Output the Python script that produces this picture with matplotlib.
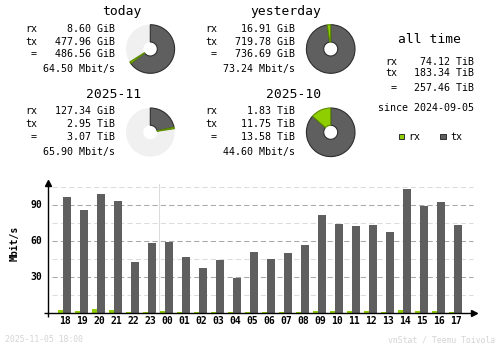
import numpy as np
import matplotlib
matplotlib.use("Agg")
import matplotlib.pyplot as plt
from matplotlib.patches import Wedge, Rectangle

# traffic summary per period (values as printed, units alongside)
periods = ["today", "yesterday", "2025-11", "2025-10"]
rx_val = [8.60, 16.91, 127.34, 1.83]
rx_unit = ["GiB", "GiB", "GiB", "TiB"]
tx_val = [477.96, 719.78, 2.95, 11.75]
tx_unit = ["GiB", "GiB", "TiB", "TiB"]
tot_val = [486.56, 736.69, 3.07, 13.58]
tot_unit = ["GiB", "GiB", "TiB", "TiB"]
rates = [64.50, 73.24, 65.90, 44.60]

alltime_rx = 74.12
alltime_tx = 183.34
alltime_tot = 257.46
since = "2024-09-05"

# hourly averages, Mbit/s
hours = ["18", "19", "20", "21", "22", "23", "00", "01", "02", "03", "04", "05",
         "06", "07", "08", "09", "10", "11", "12", "13", "14", "15", "16", "17"]
hour_tx = [96.9, 86.1, 99.4, 93.6, 42.8, 58.6, 59.7, 46.9, 37.8, 44.4, 29.4, 51.1,
           45.3, 50.3, 56.9, 81.9, 74.4, 72.8, 73.6, 67.8, 103.6, 89.7, 92.8, 73.6]
hour_rx = [2.8, 1.9, 3.6, 2.8, 1.1, 1.1, 1.9, 1.1, 1.1, 1.1, 1.1, 1.1,
           1.1, 1.1, 1.1, 1.9, 1.9, 1.9, 1.9, 1.1, 2.8, 1.9, 1.9, 1.1]

stamp = "2025-11-05 18:00"
credit = "vnStat / Teemu Toivola"

C_TX = "#5f5f5f"
C_TX_EDGE = "#2e2e2e"
C_RX = "#8fce00"
C_RX_EDGE = "#5c8c00"
C_FREE = "#f0f0f0"
MONO = "DejaVu Sans Mono"

W, H = 500, 348
fig = plt.figure(figsize=(W / 100, H / 100), dpi=100)

# pixel space overlay for the summary part
top = fig.add_axes([0, 0, 1, 1])
top.set_xlim(0, W)
top.set_ylim(H, 0)
top.axis("off")


def to_gib(v, u):
    return v * 1024 if u == "TiB" else v


def pie(cx, cy, rx, tx, fill):
    r, r_in = 24.3, 7.0
    top.add_patch(Wedge((cx, cy), r, 0, 360, width=r - r_in, facecolor=C_FREE, edgecolor="none"))
    total = rx + tx
    a0 = -90
    a1 = a0 + 360 * fill * tx / total
    a2 = a0 + 360 * fill
    top.add_patch(Wedge((cx, cy), r, a0, a1, width=r - r_in, facecolor=C_TX,
                        edgecolor=C_TX_EDGE, lw=0.8))
    top.add_patch(Wedge((cx, cy), r, a1, a2, width=r - r_in, facecolor=C_RX,
                        edgecolor=C_RX_EDGE, lw=0.8))


def block(i, x0, x1, ty, ys, tcx, pcx, pcy, fill):
    top.text(tcx, ty, periods[i], family=MONO, fontsize=9.4, ha="center", va="center")
    rows = [("rx", f"{rx_val[i]:.2f} {rx_unit[i]}"),
            ("tx", f"{tx_val[i]:.2f} {tx_unit[i]}"),
            (" =", f"{tot_val[i]:.2f} {tot_unit[i]}")]
    for (lab, val), y in zip(rows, ys[:3]):
        top.text(x0, y, lab, family=MONO, fontsize=7.2, ha="left", va="center")
        top.text(x1, y, val, family=MONO, fontsize=7.2, ha="right", va="center")
    top.text(x1, ys[3], f"{rates[i]:.2f} Mbit/s", family=MONO, fontsize=7.2,
             ha="right", va="center")
    pie(pcx, pcy, to_gib(rx_val[i], rx_unit[i]), to_gib(tx_val[i], tx_unit[i]), fill)


tot_gib = [to_gib(v, u) for v, u in zip(tot_val, tot_unit)]
fill_today = min(1.0, tot_gib[0] / tot_gib[1])
fill_month = min(1.0, tot_gib[2] / tot_gib[3])

row_a = [29.3, 41.7, 54.3, 69.0]
row_b = [111.0, 124.3, 137.3, 152.3]
block(0, 25, 115, 11.7, row_a, 122, 150.3, 49, fill_today)
block(1, 205, 295, 11.7, row_a, 286, 330.7, 49, 1.0)
block(2, 25, 115, 95.0, row_b, 114, 150.3, 132.3, fill_month)
block(3, 205, 295, 95.0, row_b, 294, 330.7, 132.3, 1.0)

# all time column
top.text(429, 39.3, "all time", family=MONO, fontsize=9.4, ha="center", va="center")
for lab, v, y in [("rx", alltime_rx, 61.7), ("tx", alltime_tx, 73.3), (" =", alltime_tot, 87.7)]:
    top.text(385, y, lab, family=MONO, fontsize=7.2, ha="left", va="center")
    top.text(474, y, f"{v:.2f} TiB", family=MONO, fontsize=7.2, ha="right", va="center")
top.text(426, 107.7, f"since {since}", family=MONO, fontsize=7.2, ha="center", va="center")

# legend
for sx, tx_, fc, ec, lab in [(398.7, 408, C_RX, "#2e2e2e", "rx"), (440.3, 450, C_TX, "#2e2e2e", "tx")]:
    top.add_patch(Rectangle((sx, 133.8), 5.6, 5.6, facecolor=fc, edgecolor=ec, lw=0.7))
    top.text(tx_, 136.7, lab, family=MONO, fontsize=7.2, ha="left", va="center")

top.text(5, 340, stamp, family=MONO, fontsize=5.9, color="#d4d4d4", ha="left", va="center")
top.text(495, 340, credit, family=MONO, fontsize=5.9, color="#d4d4d4", ha="right", va="center")

# hourly bar chart, x in hour slots of 17 px, y in Mbit/s at 1.2 px per unit
px_left, px_right = 48.3, 476.0
px_base, px_top = 313.3, 181.0
slot, x_first = 17.0, 65.0
ppu = 1.2

ax = fig.add_axes([px_left / W, (H - px_base) / H, (px_right - px_left) / W, (px_base - px_top) / H])
ax.set_facecolor("none")
ax.set_xlim((px_left - x_first) / slot, (px_right - x_first) / slot)
ax.set_ylim(0, (px_base - px_top) / ppu)
for s in ax.spines.values():
    s.set_visible(False)
ax.set_xticks([])
ax.set_yticks([])

gx0 = (51.7 - x_first) / slot
gx1 = (472.7 - x_first) / slot
for v in [15, 45, 75, 105]:
    ax.plot([gx0, gx1], [v, v], color="#dcdcdc", lw=0.75, dashes=(5, 3), zorder=1)
for v in [30, 60, 90]:
    ax.plot([gx0, gx1], [v, v], color="#a8a8a8", lw=0.75, dashes=(5, 3), zorder=1)
    ax.text((42 - x_first) / slot, v, str(v), family=MONO, fontsize=7, fontweight="bold",
            ha="right", va="center", clip_on=False)

# day boundary between 23 and 00
ax.plot([5.5, 5.5], [0, (px_base - 184) / ppu], color="#dcdcdc", lw=0.75, zorder=1)

x = np.arange(len(hours))
ax.bar(x + 2 / slot, hour_tx, width=8 / slot, color=C_TX, zorder=2)
ax.bar(x - 4.5 / slot, hour_rx, width=5 / slot, color=C_RX, zorder=2)

for i, h in enumerate(hours):
    ax.text(i, -6.6, h, family=MONO, fontsize=7, fontweight="bold", ha="center", va="center",
            clip_on=False)

xl = ax.get_xlim()
yl = ax.get_ylim()
ax.plot([xl[0], xl[0]], [-3.4 / ppu, yl[1] - 2], color="black", lw=1.0, clip_on=False, zorder=3,
        solid_capstyle="butt")
ax.plot([(44 - x_first) / slot, xl[1] - 0.1], [0, 0], color="black", lw=1.0, clip_on=False,
        zorder=3, solid_capstyle="butt")
ax.plot([xl[0]], [yl[1] - 1.5], marker="^", color="black", ms=4, clip_on=False, zorder=3)
ax.plot([xl[1] - 0.1], [0], marker=">", color="black", ms=4, clip_on=False, zorder=3)

top.text(14.7, 243, "Mbit/s", family=MONO, fontsize=7, fontweight="bold", rotation=90,
         ha="center", va="center")

fig.savefig("out.png", dpi=100, facecolor="white")
